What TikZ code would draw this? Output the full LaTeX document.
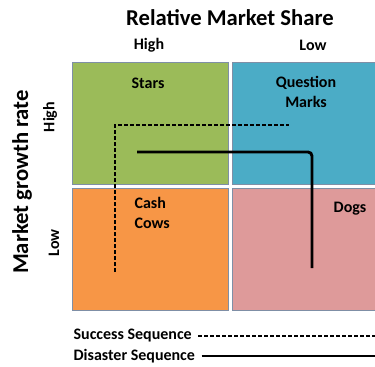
\documentclass[tikz,border=0pt]{standalone}
\usepackage{fontspec}
\setmainfont{Carlito}
\definecolor{qgreen}{HTML}{9BBB59}
\definecolor{qblue}{HTML}{4BACC6}
\definecolor{qorange}{HTML}{F79646}
\definecolor{qpink}{HTML}{DE9A9A}
\definecolor{qedge}{HTML}{7F8FA6}
\begin{document}
\begin{tikzpicture}[x=0.75pt,y=-0.75pt,
  quad/.style={draw=qedge,line width=0.8pt,anchor=north west,inner sep=0pt,minimum width=156*0.75pt,minimum height=122*0.75pt},
  lbl/.style={font=\bfseries\fontsize{12}{14.5}\selectfont,align=center,inner sep=1pt},
  axis/.style={font=\bfseries\fontsize{17}{19}\selectfont,inner sep=0pt},
  succ/.style={line width=1.4pt,dash pattern=on 3pt off 1.5pt},
  dis/.style={line width=2.2pt,rounded corners=3pt}]
\useasboundingbox (0,0) rectangle (375,367);
\node[quad,fill=qgreen] (stars) at (72,62) {};
\node[quad,fill=qblue,minimum width=146*0.75pt] (qm) at (232,62) {};
\node[quad,fill=qorange] (cows) at (72,188) {};
\node[quad,fill=qpink,minimum width=146*0.75pt] (dogs) at (232,188) {};
\node[axis] (title) at (230,18) {Relative Market Share};
\node[lbl] (hh) at (149,45) {High};
\node[lbl] (hl) at (313,45) {Low};
\node[axis,rotate=90] (ytitle) at (22,182) {Market growth rate};
\node[lbl,rotate=90] (vh) at (50,117) {High};
\node[lbl,rotate=90] (vl) at (54,243) {Low};
\node[lbl] (tstars) at (148,83) {Stars};
\node[lbl] (tqm) at (306,92) {Question\\Marks};
\node[lbl,align=left,anchor=west] (tcows) at (133,213) {Cash\\Cows};
\node[lbl] (tdogs) at (350,209) {Dogs};
\coordinate (s1) at (115,272);
\coordinate (s2) at (115,125);
\coordinate (s3) at (289,125);
\draw[succ] (s1) -- (s2) -- (s3);
\coordinate (d1) at (137,152);
\coordinate (d2) at (312,152);
\coordinate (d3) at (312,268);
\draw[dis] (d1) -- (d2) -- (d3);
\node[lbl,anchor=west] (ls) at (72,336) {Success Sequence};
\node[lbl,anchor=west] (ld) at (72,356) {Disaster Sequence};
\coordinate (le1) at (375,336);
\coordinate (le2) at (375,356);
\draw[succ,line width=0.8pt] (ls.east) ++(5,0) -- (le1);
\draw[line width=1.4pt] (ld.east) ++(5,0) -- (le2);
\end{tikzpicture}
\end{document}
